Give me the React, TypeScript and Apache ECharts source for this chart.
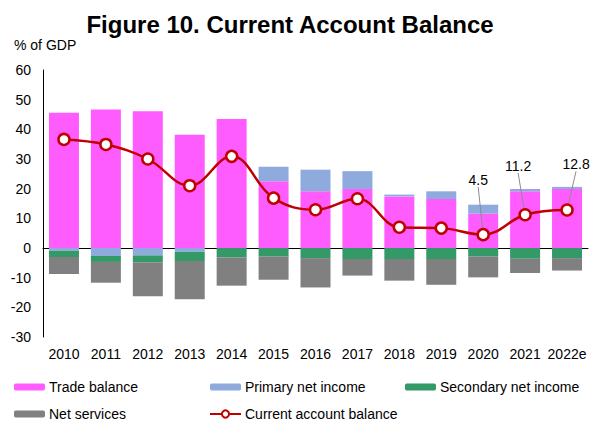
import React, { useEffect, useRef } from "react";
import * as echarts from "echarts";

const years = ["2010", "2011", "2012", "2013", "2014", "2015", "2016", "2017", "2018", "2019", "2020", "2021", "2022e"];
const tradeBalance = [45.6, 46.7, 46.1, 38.2, 43.5, 22.5, 19.1, 19.9, 17.4, 16.5, 11.6, 19.1, 19.9];
const primaryNetIncome = [-0.9, -2.7, -2.5, -1.3, 0, 4.9, 7.3, 6.0, 0.6, 2.6, 3.0, 0.8, 0.7];
const secondaryNetIncome = [-2.1, -2.0, -2.3, -3.1, -3.2, -2.9, -3.4, -3.7, -3.7, -3.7, -2.9, -3.6, -3.4];
const netServices = [-5.8, -7.0, -11.5, -12.9, -9.5, -7.8, -9.9, -5.6, -7.3, -8.7, -7.0, -4.8, -4.2];
const currentAccount = [36.6, 34.9, 30.0, 21.0, 30.9, 16.8, 12.9, 16.6, 7.0, 6.7, 4.5, 11.2, 12.8];
const labelledYears = ["2020", "2021", "2022e"];

const FONT = "'Liberation Sans', Arial, sans-serif";

export default function App() {
  const ref = useRef<HTMLDivElement>(null);
  useEffect(() => {
    if (!ref.current) return;
    document.body.style.margin = "0";
    const chart = echarts.init(ref.current, null, { renderer: "svg" });
    const labelShift: Record<string, [number, number]> = {
      "2020": [-5, -36],
      "2021": [-7, -30],
      "2022e": [9, -27],
    };
    const legendBase = {
      padding: 0,
      itemWidth: 31,
      itemHeight: 7,
      itemGap: 0,
      textStyle: { fontSize: 14, color: "#000", fontFamily: FONT, padding: [0, 0, 0, -1] },
      selectedMode: false,
    };
    const barSeries = (name: string, data: number[], color: string) => ({
      name,
      type: "bar",
      stack: "total",
      data,
      barWidth: 30,
      itemStyle: { color },
      emphasis: { disabled: true },
    });
    chart.setOption({
      animation: false,
      textStyle: { fontFamily: FONT },
      grid: { left: 43, right: 10, top: 70, bottom: 91, containLabel: false },
      graphic: [
        {
          type: "text",
          x: 290,
          y: 24,
          style: {
            text: "Figure 10. Current Account Balance",
            fontSize: 24,
            fontWeight: "bold",
            fontFamily: FONT,
            fill: "#000",
            textAlign: "center",
            textVerticalAlign: "middle",
          },
        },
        {
          type: "text",
          x: 14,
          y: 45,
          style: {
            text: "% of GDP",
            fontSize: 14,
            fontFamily: FONT,
            fill: "#000",
            textAlign: "left",
            textVerticalAlign: "middle",
          },
        },
      ],
      legend: [
        { ...legendBase, left: 14, top: 380, data: ["Trade balance"] },
        { ...legendBase, left: 210, top: 380, data: ["Primary net income"] },
        { ...legendBase, left: 405, top: 380, data: ["Secondary net income"] },
        { ...legendBase, left: 14, top: 407, data: ["Net services"] },
        { ...legendBase, left: 209, top: 407, itemHeight: 9, data: ["Current account balance"] },
      ],
      xAxis: [
        {
          type: "category",
          data: years,
          position: "bottom",
          axisLine: { show: false, onZero: false },
          axisTick: { show: false },
          axisLabel: { fontSize: 14, color: "#000", margin: 10, fontFamily: FONT, interval: 0 },
        },
        {
          type: "category",
          data: years,
          axisLine: { show: true, onZero: true, lineStyle: { color: "#000", width: 1 } },
          axisTick: { show: false },
          axisLabel: { show: false },
        },
      ],
      yAxis: {
        type: "value",
        min: -30,
        max: 60,
        interval: 10,
        axisLine: { show: true, lineStyle: { color: "#000", width: 1 } },
        axisTick: { show: false },
        splitLine: { show: false },
        axisLabel: { fontSize: 14, color: "#000", margin: 12, fontFamily: FONT },
      },
      series: [
        barSeries("Trade balance", tradeBalance, "#FF5CFF"),
        barSeries("Primary net income", primaryNetIncome, "#8FAADC"),
        barSeries("Secondary net income", secondaryNetIncome, "#339966"),
        barSeries("Net services", netServices, "#808080"),
        {
          name: "Current account balance",
          type: "line",
          data: currentAccount.map((v, i) => ({
            value: v,
            label: labelledYears.includes(years[i])
              ? { show: true, position: "top", formatter: String(v), fontSize: 14, color: "#000", fontFamily: FONT }
              : { show: false },
          })),
          smooth: 0.4,
          symbol: "circle",
          symbolSize: 11,
          showAllSymbol: true,
          lineStyle: { color: "#C00000", width: 2.5 },
          itemStyle: { color: "#FFFFFF", borderColor: "#C00000", borderWidth: 2.5 },
          labelLine: { show: true, lineStyle: { color: "#8C8C8C", width: 1 } },
          labelLayout: (params: any) => {
            const key = years[params.dataIndex];
            const s = labelShift[key];
            if (!s) return {};
            return { dx: s[0], dy: s[1] };
          },
          emphasis: { disabled: true },
          z: 5,
        },
      ],
    });
    return () => chart.dispose();
  }, []);
  return <div ref={ref} style={{ width: 598, height: 428 }} />;
}
